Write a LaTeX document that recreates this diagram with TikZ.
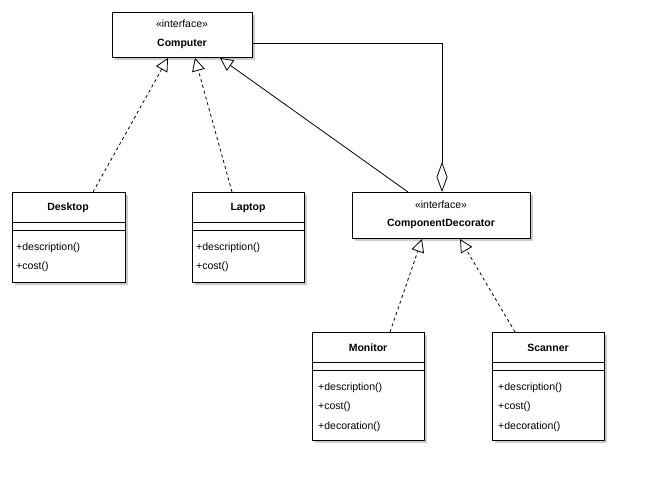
\documentclass[tikz,border=0pt]{standalone}
\usepackage{fontspec}
\setmainfont{Liberation Sans}
\usetikzlibrary{arrows.meta,shadows}
\begin{document}
\begin{tikzpicture}[x=1pt,y=-1pt,
  box/.style={draw,fill=white,line width=0.9pt,drop shadow={shadow xshift=3pt,shadow yshift=-3pt,fill=black!20,opacity=1}},
  ln/.style={line width=0.8pt},
  tri/.style={-{Triangle[open,length=13pt,width=13pt]},line width=0.8pt},
  dtri/.style={tri,dash pattern=on 3pt off 3pt},
  t/.style={inner sep=0pt,font=\fontsize{10.5pt}{12pt}\selectfont},
  m/.style={inner sep=0pt,anchor=west,font=\fontsize{10.5pt}{12pt}\selectfont}]
\useasboundingbox (0,0) rectangle (653,491);
% Computer
\path[box] (112,12) rectangle (252,57);
\node[t] (c1) at (182,24) {«interface»};
\node[t,font=\fontsize{10.5pt}{12pt}\selectfont\bfseries] (comp) at (182,44) {Computer};
\coordinate (cr) at (252,43);
% class boxes
\foreach \n/\x/\w in {desk/12/113,lap/192/112}{
  \path[box] (\x,192) rectangle ++(\w,90);
  \draw[ln] (\x,222) -- ++(\w,0) (\x,230) -- ++(\w,0);
}
\node[t,font=\fontsize{10.5pt}{12pt}\selectfont\bfseries] (desk) at (68,208) {Desktop};
\node[m] (d1) at (16,248) {+description()};
\node[m] (d2) at (16,267) {+cost()};
\node[t,font=\fontsize{10.5pt}{12pt}\selectfont\bfseries] (lap) at (248,208) {Laptop};
\node[m] (l1) at (196,248) {+description()};
\node[m] (l2) at (196,267) {+cost()};
% Decorator
\path[box] (352,192) rectangle (530,238);
\node[t] (dec1) at (441,205) {«interface»};
\node[t,font=\fontsize{10.5pt}{12pt}\selectfont\bfseries] (dec) at (441,224) {ComponentDecorator};
% Monitor, Scanner
\foreach \x in {312,492}{
  \path[box] (\x,332) rectangle ++(112,108);
  \draw[ln] (\x,362) -- ++(112,0) (\x,370) -- ++(112,0);
}
\node[t,font=\fontsize{10.5pt}{12pt}\selectfont\bfseries] (mon) at (368,348) {Monitor};
\node[m] (m1) at (318,388) {+description()};
\node[m] (m2) at (318,407) {+cost()};
\node[m] (m3) at (318,427) {+decoration()};
\node[t,font=\fontsize{10.5pt}{12pt}\selectfont\bfseries] (scan) at (548,348) {Scanner};
\node[m] (s1) at (498,388) {+description()};
\node[m] (s2) at (498,407) {+cost()};
\node[m] (s3) at (498,427) {+decoration()};
% connectors
\coordinate (a1) at (93,192); \coordinate (a1e) at (168,58);
\coordinate (a2) at (232,192); \coordinate (a2e) at (195,58);
\coordinate (a3) at (408,192); \coordinate (a3e) at (220,58);
\coordinate (a4) at (390,332); \coordinate (a4e) at (422,239);
\coordinate (a5) at (515,332); \coordinate (a5e) at (460,239);
\coordinate (ag) at (442,192);
\draw[dtri] (a1) -- (a1e);
\draw[dtri] (a2) -- (a2e);
\draw[tri] (a3) -- (a3e);
\draw[dtri] (a4) -- (a4e);
\draw[dtri] (a5) -- (a5e);
\draw[ln,-{Diamond[open,length=30pt,width=11pt]}] (cr) -| (ag);
\end{tikzpicture}
\end{document}
